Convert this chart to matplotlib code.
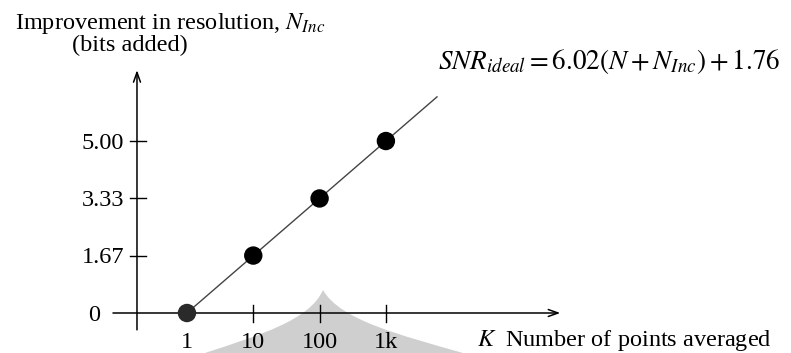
import numpy as np
import matplotlib.pyplot as plt
from matplotlib.path import Path
from matplotlib.patches import PathPatch

plt.rcParams['font.family'] = ['Liberation Serif', 'DejaVu Serif']
plt.rcParams['mathtext.fontset'] = 'stix'

# data
k_labels = ['1', '10', '100', '1k']
k_values = [1, 10, 100, 1000]
n_inc = [0, 1.67, 3.33, 5.00]
y_tick_labels = ['0', '1.67', '3.33', '5.00']
line_end_k = 5900

x = np.log10(k_values)

fig = plt.figure(figsize=(7.91, 3.53), dpi=100)
ax = fig.add_axes([0, 0, 1, 1])
ax.set_xlim(-2.82, 9.11)
ax.set_ylim(-1.163, 9.10)
ax.axis('off')

# grey watermark shape in the lower middle (cusp at the top)
verts = [(2.051, 0.669), (1.855, -0.203), (1.101, -0.640), (0.271, -1.163),
         (4.163, -1.163), (3.213, -0.640), (2.308, -0.203), (2.051, 0.669)]
codes = [Path.MOVETO, Path.CURVE4, Path.CURVE4, Path.CURVE4,
         Path.LINETO, Path.CURVE4, Path.CURVE4, Path.CURVE4]
ax.add_patch(PathPatch(Path(verts, codes), facecolor='#cfcfcf', edgecolor='none', zorder=0))

# axes with arrows
arrow = dict(arrowstyle='->,head_length=0.7,head_width=0.25', lw=1.1, color='black',
             shrinkA=0, shrinkB=0)
ax.annotate('', xy=(5.63, 0), xytext=(-1.116, 0), arrowprops=arrow)
ax.annotate('', xy=(-0.754, 7.06), xytext=(-0.754, -0.49), arrowprops=arrow)

fs = 17.5

# y ticks
for v, lab in zip(n_inc, y_tick_labels):
    if v != 0:
        ax.plot([-0.86, -0.618], [v, v], color='black', lw=1.0)
        ax.text(-0.95, v - 0.23, lab, ha='right', va='baseline', fontsize=fs)
    else:
        ax.text(-1.40, v - 0.23, lab, ha='center', va='baseline', fontsize=fs)

# x ticks
for xv, lab in zip(x, k_labels):
    if xv != 0:
        ax.plot([xv, xv], [0.233, -0.262], color='black', lw=1.0)
    ax.text(xv, -1.02, lab, ha='center', va='baseline', fontsize=fs)

# fitted line, extended past the last point
slope, icpt = np.polyfit(x, n_inc, 1)
xl = np.array([0, np.log10(line_end_k)])
ax.plot(xl, slope * xl + icpt, color='#444444', lw=1.0, zorder=2)

colors = ['#2a2a2a', 'black', 'black', 'black']
ax.scatter(x, n_inc, s=150, c=colors, zorder=3)

# labels
ax.text(-2.594, 8.256, r'Improvement in resolution, $N_{Inc}$', ha='left', va='baseline', fontsize=fs)
ax.text(-0.86, 7.63, '(bits added)', ha='center', va='baseline', fontsize=fs)
ax.text(3.786, 7.09, r'$SNR_{ideal} = 6.02(N+N_{Inc})+1.76$', ha='left', va='baseline', fontsize=19.5)
ax.text(4.374, -0.96, r'$K$  Number of points averaged', ha='left', va='baseline', fontsize=fs)

fig.savefig('out.png', dpi=100)
